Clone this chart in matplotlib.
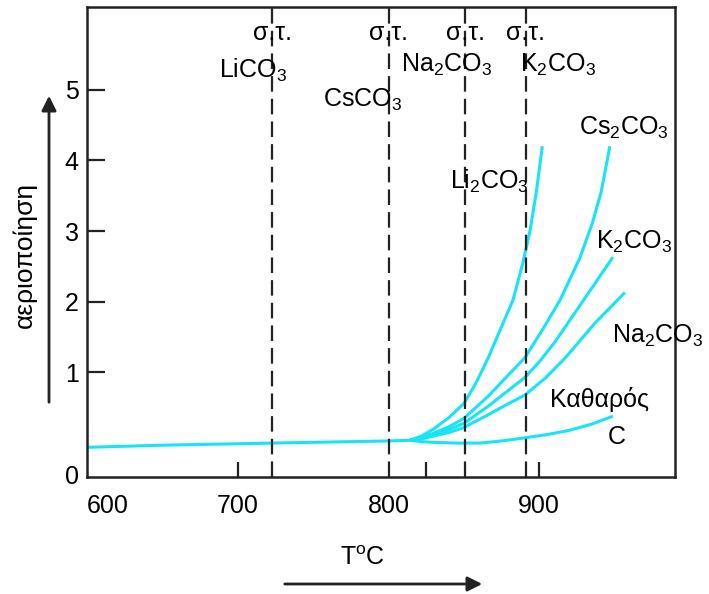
import matplotlib
matplotlib.use("Agg")
import matplotlib.pyplot as plt
from matplotlib.patches import FancyArrowPatch
import matplotlib.transforms as mtransforms

plt.rcParams['font.family'] = ['Liberation Sans', 'DejaVu Sans']
plt.rcParams['mathtext.fontset'] = 'custom'
plt.rcParams['mathtext.rm'] = 'Liberation Sans'
plt.rcParams['mathtext.it'] = 'Liberation Sans'
plt.rcParams['mathtext.default'] = 'rm'

# Common baseline before the curves separate
base_T = [600, 650, 723, 800, 814]
base_y = [-0.06, -0.03, 0.0, 0.03, 0.04]

# Gasification curves
li_T = [814, 822, 830, 840, 850, 858, 866, 874, 882.5, 889, 894, 898, 902]
li_y = [0.04, 0.10, 0.20, 0.36, 0.56, 0.85, 1.20, 1.60, 2.02, 2.54, 3.02, 3.55, 4.20]

cs_T = [814, 822, 830, 840, 850, 866, 878, 890.5, 902, 913.7, 926.9, 935, 941, 946.8]
cs_y = [0.04, 0.08, 0.14, 0.23, 0.35, 0.66, 0.93, 1.21, 1.60, 2.02, 2.62, 3.10, 3.55, 4.20]

k_T = [814, 822, 830, 840, 850, 866, 878, 890.5, 900, 910, 928, 948.8]
k_y = [0.04, 0.07, 0.12, 0.19, 0.28, 0.52, 0.72, 0.93, 1.15, 1.42, 1.98, 2.63]

na_T = [814, 822, 830, 840, 850, 866, 878, 890.5, 904, 917, 937, 956.8]
na_y = [0.04, 0.06, 0.10, 0.15, 0.22, 0.40, 0.54, 0.68, 0.92, 1.20, 1.70, 2.13]

c_T = [814, 822, 830, 845, 860.6, 875, 889, 905, 920, 935, 948.8]
c_y = [0.04, 0.02, 0.01, 0.0, 0.0, 0.03, 0.07, 0.12, 0.18, 0.27, 0.38]

# Melting points (dashed lines) and their labels
mp_T = [723, 800, 851, 891]
mp_labels = [r'LiCO$_3$', r'CsCO$_3$', r'Na$_2$CO$_3$', r'K$_2$CO$_3$']

xtick_vals = [600, 700, 800, 900]
ytick_vals = [1, 2, 3, 4, 5]

cyan = '#17e4f4'
ink = '#222222'
fs = 18

fig = plt.figure(figsize=(7.09, 5.94), dpi=100)
ax = fig.add_axes([87/709, 1-477/594, 588/709, 470/594])
ax.set_xlim(600, 990)
ax.set_ylim(-0.48, 6.17)

ax.plot(base_T, base_y, color=cyan, lw=2.2, solid_capstyle='butt')
for T, y in [(li_T, li_y), (cs_T, cs_y), (k_T, k_y), (na_T, na_y), (c_T, c_y)]:
    ax.plot(T, y, color=cyan, lw=2.2, solid_capstyle='butt', solid_joinstyle='round')

for t in mp_T:
    ax.axvline(t, color=ink, lw=1.6, linestyle=(0, (7, 3.2)))

for s in ax.spines.values():
    s.set_linewidth(1.8)
    s.set_color(ink)

ax.set_xticks(xtick_vals)
ax.set_xticklabels([str(v) for v in xtick_vals])
ax.set_xticks([825], minor=True)
ax.tick_params(axis='x', which='both', direction='in', length=11, width=1.6, color=ink,
               pad=12, labelsize=fs)
xt = ax.xaxis.get_major_ticks()
xt[0].tick1line.set_visible(False)
xt[2].tick1line.set_visible(False)
ax.get_xticklabels()[0].set_horizontalalignment('left')

ax.set_yticks(ytick_vals)
ax.set_yticklabels([str(v) for v in ytick_vals])
ax.tick_params(axis='y', direction='in', length=13, width=1.6, pad=6, labelsize=fs, color=ink)
ax.text(-0.014, 0.0, '0', transform=ax.transAxes, ha='right', va='center', fontsize=fs)

# melting point annotations
tr = mtransforms.blended_transform_factory(ax.transData, ax.transAxes)
for t in mp_T:
    ax.text(t, 0.945, 'σ.τ.', transform=tr, ha='center', va='center', fontsize=fs)
mp_pos = [(0.283, 0.866), (0.468, 0.802), (0.612, 0.877), (0.801, 0.877)]
for lab, (fx, fy) in zip(mp_labels, mp_pos):
    ax.text(fx, fy, lab, transform=ax.transAxes, ha='center', va='center', fontsize=fs)

# curve labels
curve_labels = [r'Cs$_2$CO$_3$', r'Li$_2$CO$_3$', r'K$_2$CO$_3$', r'Na$_2$CO$_3$', 'Καθαρός', 'C']
curve_pos = [(0.913, 0.743), (0.685, 0.628), (0.930, 0.500), (0.971, 0.300), (0.871, 0.164), (0.901, 0.085)]
for lab, (fx, fy) in zip(curve_labels, curve_pos):
    ax.text(fx, fy, lab, transform=ax.transAxes, ha='center', va='center', fontsize=fs,
            clip_on=False)

# axis titles with arrows
fig.text(25/709, 1-255/594, 'αεριοποίηση', rotation=90, ha='center', va='center', fontsize=19)
fig.text(362/709, 1-558/594, r'T$^{\mathrm{o}}$C', ha='center', va='center', fontsize=fs)

fig.patches.append(FancyArrowPatch((49/709, 1-405/594), (49/709, 1-93/594), transform=fig.transFigure,
                                   arrowstyle='-|>', mutation_scale=22, lw=2, color=ink))
fig.patches.append(FancyArrowPatch((282/709, 1-584/594), (485/709, 1-584/594), transform=fig.transFigure,
                                   arrowstyle='-|>', mutation_scale=22, lw=2, color=ink))

fig.savefig('out.png', dpi=100)
